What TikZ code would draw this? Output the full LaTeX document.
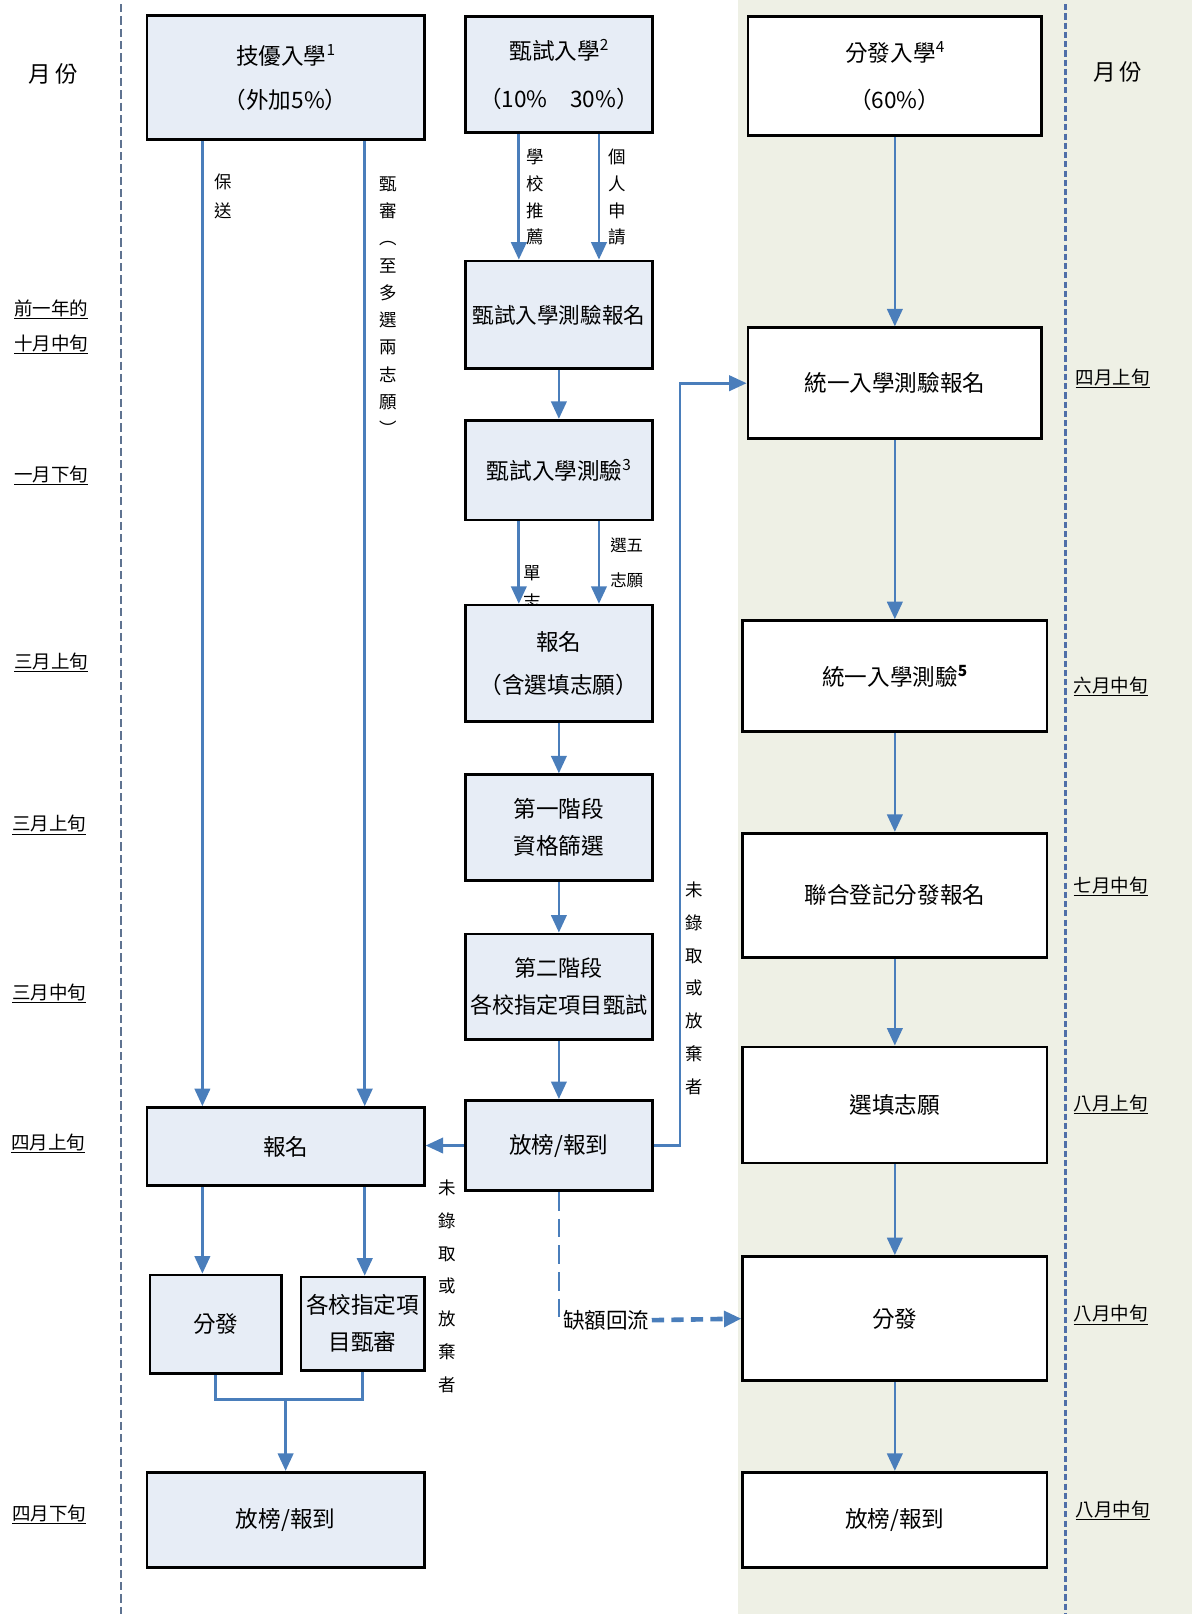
\documentclass[tikz,border=0pt]{standalone}
\usepackage{fontspec}
\setmainfont{Noto Sans CJK TC}
\usetikzlibrary{arrows.meta}

\definecolor{flowblue}{HTML}{4A7EBB}
\definecolor{boxblue}{HTML}{E7EDF6}
\definecolor{sidegray}{HTML}{EEF0E5}
\definecolor{sepgray}{HTML}{5F7391}
\definecolor{sepblue}{HTML}{4F6FA8}

\newcommand{\upnum}[1]{\raisebox{9pt}{\fontsize{15}{15}\selectfont #1}}

\begin{document}
\begin{tikzpicture}[x=1pt,y=-1pt,
    stage/.style={draw,line width=2.6pt,fill=boxblue,inner sep=0pt,align=center,
      font=\fontsize{22}{38}\selectfont},
    stagew/.style={stage,fill=white},
    month/.style={align=center,inner sep=1pt,font=\fontsize{18}{34}\selectfont},
    vlab/.style={align=center,inner sep=0pt,font=\fontsize{17}{26}\selectfont},
    flow/.style={flowblue,line width=2.6pt}]
        \useasboundingbox (0,0) rectangle (1160,1571);
        \fill[sidegray] (718,0) rectangle (1160,1571);
        \draw[sepgray,line width=2pt,dash pattern=on 8pt off 4pt] (118,4) -- (118,1571);
        \draw[sepblue,line width=2.6pt,dash pattern=on 6pt off 3pt] (1037,4) -- (1037,1571);

        \begin{scope}[>={Triangle[width=15pt,length=17pt]}]

          % month labels
          \node (mleft) at (52,72) [month,font=\fontsize{22}{34}\selectfont]{月\,份};
          \node (mright) at (1088,70) [month,font=\fontsize{22}{34}\selectfont]{月\,份};
          \node (m1) at (50,318) [month]{\underline{前一年的}\\\underline{十月中旬}};
          \node (m2) at (50,463) [month]{\underline{一月下旬}};
          \node (m3) at (50,645) [month]{\underline{三月上旬}};
          \node (m4) at (48,803) [month]{\underline{三月上旬}};
          \node (m5) at (48,967) [month]{\underline{三月中旬}};
          \node (m6) at (47,1113) [month]{\underline{四月上旬}};
          \node (m7) at (48,1474) [month]{\underline{四月下旬}};
          \node (r1) at (1083,368) [month]{\underline{四月上旬}};
          \node (r2) at (1081,668) [month]{\underline{六月中旬}};
          \node (r3) at (1081,863) [month]{\underline{七月中旬}};
          \node (r4) at (1081,1075) [month]{\underline{八月上旬}};
          \node (r5) at (1081,1280) [month]{\underline{八月中旬}};
          \node (r6) at (1083,1470) [month]{\underline{八月中旬}};

          % arrow labels
          \node (lbaosong) at (217,191) [vlab,font=\fontsize{17}{28}\selectfont]{保\\送};
          \node (lshen) at (378,298) [vlab,font=\fontsize{17}{26.5}\selectfont]{甄\\審\\︵\\至\\多\\選\\兩\\志\\願\\︶};
          \node (lschool) at (521,192) [vlab]{學\\校\\推\\薦};
          \node (lself) at (601,192) [vlab]{個\\人\\申\\請};
          \node (ldan) at (518,572) [vlab,font=\fontsize{17}{28}\selectfont]{單\\志};
          \node (lfive) at (610,548) [vlab,font=\fontsize{16}{34}\selectfont]{選五\\志願};
          \node (lfail1) at (435,1252) [vlab,font=\fontsize{17}{32}\selectfont]{未\\錄\\取\\或\\放\\棄\\者};
          \node (lfail2) at (676,962) [vlab,font=\fontsize{17}{32}\selectfont]{未\\錄\\取\\或\\放\\棄\\者};

          % left column
          \node (jiyou) at (278,75.5) [stage,minimum width=270pt,minimum height=121pt]{技優入學\upnum{1}\\[5pt]（外加5\%）};
          \node (jbm) at (278,1116) [stage,minimum width=270pt,minimum height=76pt]{報名};
          \node (jfen) at (210,1289) [stage,minimum width=128pt,minimum height=96pt]{分發};
          \node (jshen) at (353,1288.5) [stage,minimum width=120pt,minimum height=91pt,font=\fontsize{22}{36}\selectfont]{各校指定項\\目甄審};
          \node (jbang) at (278,1479.5) [stage,minimum width=270pt,minimum height=93pt]{放榜/報到};

          % middle column
          \node (zhen) at (544,72.5) [stage,minimum width=182pt,minimum height=113pt]{甄試入學\upnum{2}\\[8pt]（10\%　30\%）};
          \node (zbm) at (544,306.5) [stage,minimum width=182pt,minimum height=105pt,font=\fontsize{21}{38}\selectfont]{甄試入學測驗報名};
          \node (zce) at (544,457.5) [stage,minimum width=182pt,minimum height=97pt]{甄試入學測驗\upnum{3}};
          \node (zreg) at (544,645.5) [stage,minimum width=182pt,minimum height=113pt]{報名\\[4pt]（含選填志願）};
          \node (zone) at (544,805.5) [stage,minimum width=182pt,minimum height=103pt,font=\fontsize{22}{36}\selectfont]{第一階段\\資格篩選};
          \node (ztwo) at (544,960.5) [stage,minimum width=182pt,minimum height=103pt,font=\fontsize{21.5}{36}\selectfont]{第二階段\\各校指定項目甄試};
          \node (zbang) at (544,1115) [stage,minimum width=182pt,minimum height=88pt]{放榜/報到};

          % right column
          \node (fen) at (871,74) [stagew,minimum width=286pt,minimum height=116pt]{分發入學\upnum{4}\\[8pt]（60\%）};
          \node (tbm) at (871,373) [stagew,minimum width=286pt,minimum height=108pt]{統一入學測驗報名};
          \node (tce) at (871,658) [stagew,minimum width=296pt,minimum height=108pt]{統一入學測驗\upnum{\bfseries 5}};
          \node (lh) at (871,871.5) [stagew,minimum width=296pt,minimum height=121pt]{聯合登記分發報名};
          \node (xt) at (871,1075.5) [stagew,minimum width=296pt,minimum height=113pt]{選填志願};
          \node (ff) at (871,1283.5) [stagew,minimum width=296pt,minimum height=121pt]{分發};
          \node (fbang) at (871,1479.5) [stagew,minimum width=296pt,minimum height=93pt]{放榜/報到};

          \node (lack) at (546,1285) [anchor=west,inner sep=2pt,font=\fontsize{21}{24}\selectfont]{缺額回流};
          \coordinate (turn) at (662,373);
          \coordinate (join) at (278,1362);

          % connectors
          \draw[flow,->] ([xshift=-81pt]jiyou.south) -- ([xshift=-81pt]jbm.north);
          \draw[flow,->] ([xshift=77pt]jiyou.south) -- ([xshift=77pt]jbm.north);
          \draw[flow,->] ([xshift=-81pt]jbm.south) -- ([xshift=-81pt]jbm.south |- jfen.north);
          \draw[flow,->] ([xshift=77pt]jbm.south) -- ([xshift=77pt]jbm.south |- jshen.north);
          \draw[flow] (jfen.south) |- (join) -| (jshen.south);
          \draw[flow,->] (join) -- (jbang.north);

          \draw[flow,->] ([xshift=-39pt]zhen.south) -- ([xshift=-39pt]zbm.north);
          \draw[flow,->] ([xshift=39pt]zhen.south) -- ([xshift=39pt]zbm.north);
          \draw[flow,->] (zbm) -- (zce);
          \draw[flow,->] ([xshift=-39pt]zce.south) -- ([xshift=-39pt]zreg.north);
          \draw[flow,->] ([xshift=39pt]zce.south) -- ([xshift=39pt]zreg.north);
          \draw[flow,->] (zreg) -- (zone);
          \draw[flow,->] (zone) -- (ztwo);
          \draw[flow,->] (ztwo) -- (zbang);
          \draw[flow,->] (zbang.west) -- (zbang.west -| jbm.east);
          \draw[flow,->] (zbang.east) -| (turn) -- (tbm.west);
          \draw[flow,dash pattern=on 18pt off 8pt] (zbang.south) -- (zbang.south |- lack.west);
          \draw[flow,->,line width=4.5pt,dash pattern=on 12pt off 7pt] (lack.east) -- (ff.west);

          \draw[flow,->] (fen) -- (tbm);
          \draw[flow,->] (tbm) -- (tce);
          \draw[flow,->] (tce) -- (lh);
          \draw[flow,->] (lh) -- (xt);
          \draw[flow,->] (xt) -- (ff);
          \draw[flow,->] (ff) -- (fbang);

        \end{scope}
\end{tikzpicture}
\end{document}
